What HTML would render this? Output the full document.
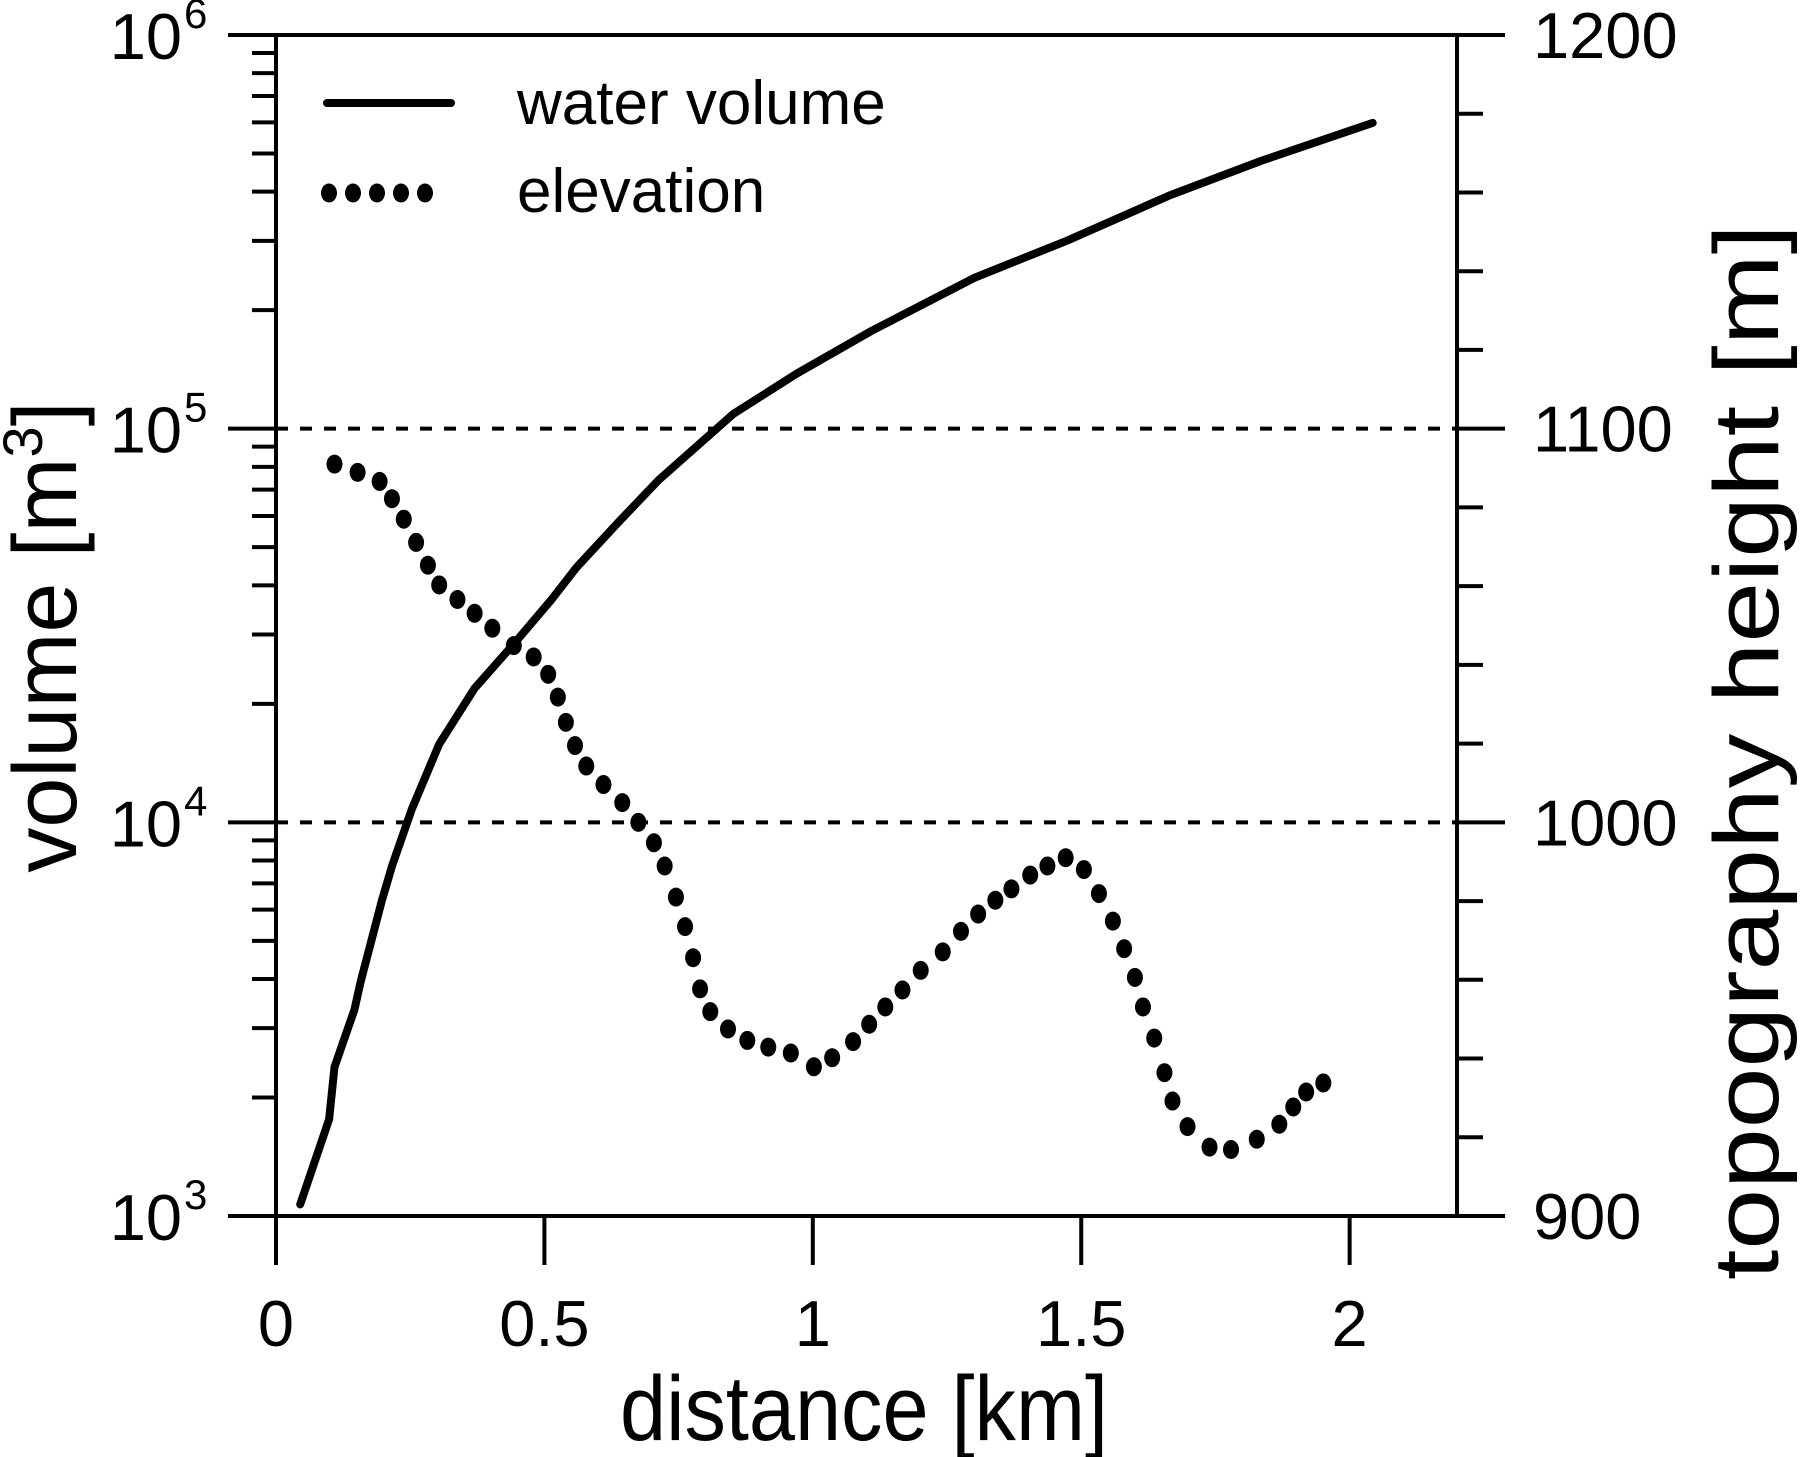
<!DOCTYPE html>
<html><head><meta charset="utf-8"><style>
html,body{margin:0;padding:0;background:#fff;}
svg{display:block;font-family:"Liberation Sans",Arial,sans-serif;}
</style></head><body>
<svg id="chart" width="1800" height="1457" viewBox="0 0 1800 1457" xmlns="http://www.w3.org/2000/svg">
<g id="grid"></g>
<g id="axes"></g>
<g id="series"></g>
<g>
  <line x1="327" y1="103" x2="451" y2="103" stroke="#000" stroke-width="8" stroke-linecap="round"/>
  <text x="517" y="124" font-size="62">water volume</text>
  <g fill="#000">
    <ellipse cx="329" cy="193" rx="8" ry="9.5"/><ellipse cx="353" cy="193" rx="8" ry="9.5"/><ellipse cx="377" cy="193" rx="8" ry="9.5"/><ellipse cx="401" cy="193" rx="8" ry="9.5"/><ellipse cx="425" cy="193" rx="8" ry="9.5"/>
  </g>
  <text x="517" y="212" font-size="62">elevation</text>
</g>
<text x="864" y="1440" font-size="92" text-anchor="middle" textLength="488" lengthAdjust="spacingAndGlyphs">distance [km]</text>
<text transform="translate(76,637) rotate(-90)" font-size="90" text-anchor="middle">volume [m<tspan font-size="56" dy="-34">3</tspan><tspan dy="34">]</tspan></text>
<text transform="translate(1778,752) rotate(-90)" font-size="92" text-anchor="middle" textLength="1056" lengthAdjust="spacingAndGlyphs">topography height [m]</text>
</svg>
<script>
const distVol = [0.045,0.099,0.109,0.146,0.158,0.197,0.216,0.253,0.304,0.370,0.445,0.514,0.559,0.638,0.713,0.852,0.970,1.109,1.302,1.473,1.666,1.837,2.043];
const volume = [1070,1760,2390,3340,3950,6320,7740,10800,15800,21900,28600,36900,44300,57900,74100,109000,138000,177000,242000,300000,392000,480000,598000];
const distElev = [0.109,0.152,0.193,0.216,0.238,0.261,0.283,0.304,0.338,0.370,0.403,0.443,0.480,0.507,0.525,0.540,0.557,0.578,0.610,0.645,0.675,0.704,0.724,0.745,0.762,0.777,0.790,0.809,0.842,0.878,0.917,0.959,1.002,1.036,1.075,1.105,1.135,1.167,1.201,1.242,1.276,1.308,1.340,1.370,1.405,1.437,1.471,1.505,1.533,1.559,1.580,1.600,1.615,1.636,1.655,1.670,1.698,1.739,1.779,1.827,1.869,1.895,1.919,1.951];
const elevation = [1091.0,1088.9,1086.6,1082.2,1077.0,1071.1,1065.3,1060.3,1056.6,1053.1,1049.3,1044.9,1042.0,1037.6,1031.8,1025.4,1019.5,1014.3,1009.6,1005.0,1000.0,994.8,988.9,981.0,973.5,965.6,957.7,951.9,947.5,944.6,942.9,941.4,937.9,940.2,944.3,948.7,953.1,957.4,962.4,967.1,972.3,976.7,980.2,983.1,986.6,988.9,991.0,988.0,981.9,974.9,967.9,960.6,953.1,945.2,936.4,929.2,922.7,917.5,916.9,919.5,923.3,927.7,931.5,933.8];
const xTicks = [0,0.5,1,1.5,2];
const xTickLabels = ["0","0.5","1","1.5","2"];
const leftExponents = [3,4,5,6];
const rightTicks = [900,1000,1100,1200];

const NS = "http://www.w3.org/2000/svg";
const L = 276, R = 1457, T = 35, B = 1216;
function xs(v){ return L + v * (R - L) / 2.2; }
function yl(v){ return B - (Math.log10(v) - 3) * (B - T) / 3; }
function yr(v){ return B - (v - 900) * (B - T) / 300; }
function mk(tag, attrs, parent){ const e = document.createElementNS(NS, tag); for (const k in attrs) e.setAttribute(k, attrs[k]); parent.appendChild(e); return e; }

const axes = document.getElementById('axes'), grid = document.getElementById('grid'), series = document.getElementById('series');
[4,5].forEach(p => {
  const y = yl(Math.pow(10,p));
  const g = mk('line', {x1:L, x2:R, y1:y, y2:y, stroke:'#000', 'stroke-width':4, 'stroke-dasharray':'12 12'}, grid);
  
  
});
const frame = mk('path', {d:`M${L-48} ${T}H${R+48}M${L-48} ${B}H${R+48}M${L} ${T}V${B}M${R} ${T}V${B}`, stroke:'#000', 'stroke-width':4, fill:'none'}, axes);


for (let p = 3; p < 6; p++) for (let m = 2; m <= 9; m++) {
  const y = yl(m * Math.pow(10,p));
  const t = mk('line', {x1:L-24, x2:L, y1:y, y2:y, stroke:'#000', 'stroke-width':4}, axes);
  
  
}
leftExponents.forEach(p => {
  const y = yl(Math.pow(10,p));
  const tk = mk('line', {x1:L-48, x2:L, y1:y, y2:y, stroke:'#000', 'stroke-width':4}, axes);
  
  
  const t = mk('text', {x:182, y:y+24, 'font-size':65, 'text-anchor':'end'}, axes);
  t.textContent = '10';
  
  
  const s = mk('text', {x:184, y:y-7, 'font-size':42}, axes);
  s.textContent = String(p);
  
  
});
for (let v = 920; v < 1200; v += 20) {
  if (v % 100 === 0) continue;
  const y = yr(v);
  const t = mk('line', {x1:R, x2:R+26, y1:y, y2:y, stroke:'#000', 'stroke-width':4}, axes);
  
  
}
rightTicks.forEach(v => {
  const y = yr(v);
  const tk = mk('line', {x1:R, x2:R+48, y1:y, y2:y, stroke:'#000', 'stroke-width':4}, axes);
  
  
  const t = mk('text', {x:1533, y:y+23, 'font-size':65}, axes);
  t.textContent = String(v);
  
  
});
xTicks.forEach((v, i) => {
  const x = xs(v);
  const tk = mk('line', {x1:x, x2:x, y1:B, y2:B+49, stroke:'#000', 'stroke-width':4}, axes);
  
  
  const t = mk('text', {x:x, y:1346, 'font-size':65, 'text-anchor':'middle'}, axes);
  t.textContent = xTickLabels[i];
  
  
});
const pts = distVol.map((d, i) => xs(d).toFixed(1) + ',' + yl(volume[i]).toFixed(1)).join(' ');
const pl = mk('polyline', {points:pts, fill:'none', stroke:'#000', 'stroke-width':8, 'stroke-linecap':'round', 'stroke-linejoin':'round'}, series);


distElev.forEach((d, i) => {
  const e = mk('ellipse', {cx:xs(d), cy:yr(elevation[i]), rx:8, ry:9.5, fill:'#000'}, series);
  
  
});
</script>
</body></html>
